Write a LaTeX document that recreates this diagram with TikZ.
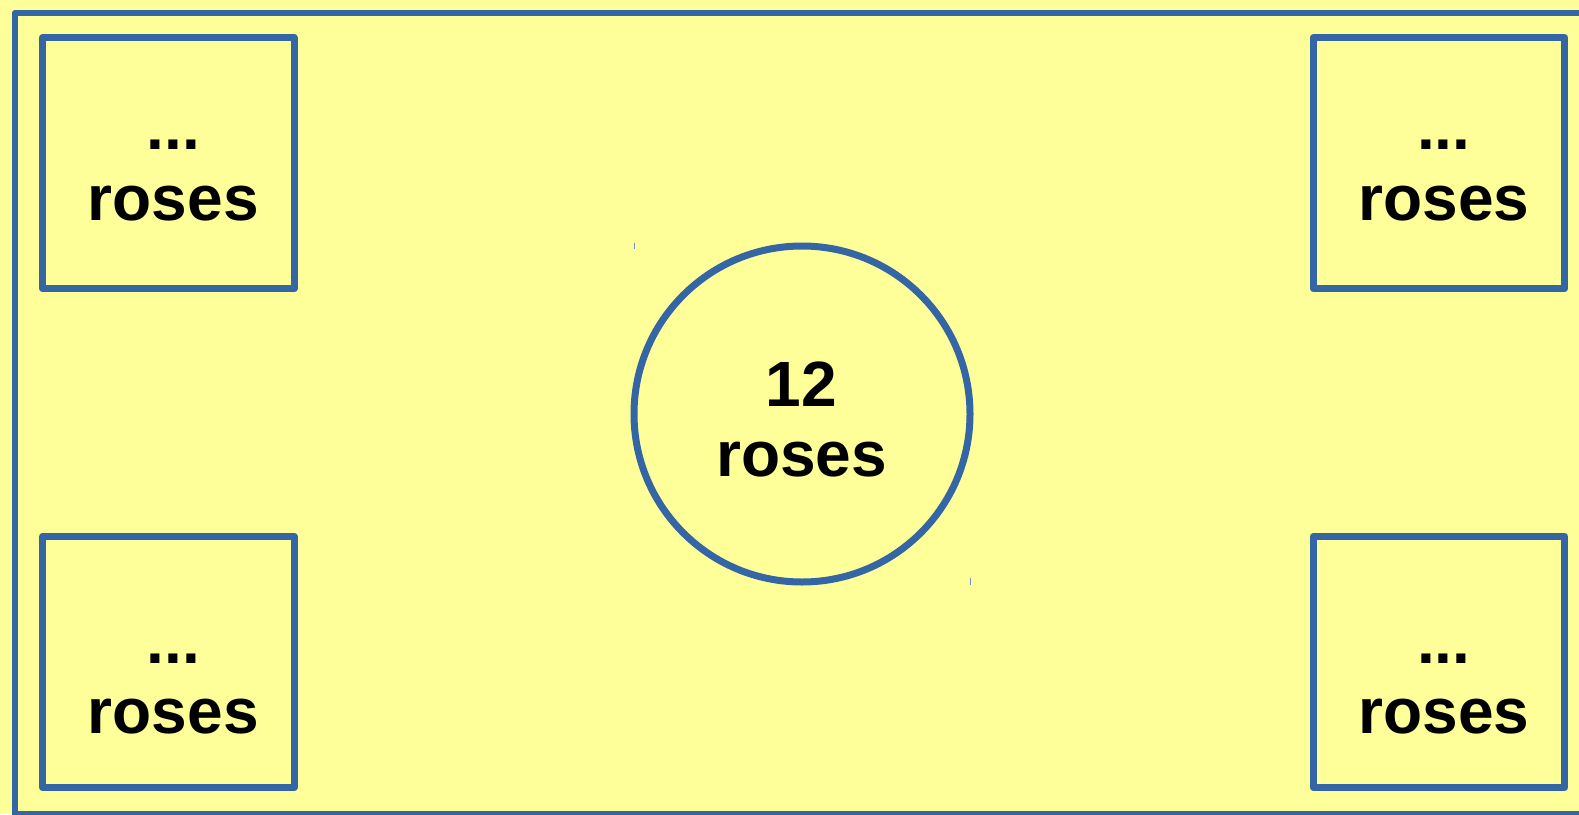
\documentclass[tikz,border=0pt]{standalone}
\usepackage{fontspec}
\setmainfont{Liberation Sans}
\definecolor{bgyellow}{HTML}{FFFF99}
\definecolor{lineblue}{HTML}{3465A4}
\tikzset{
  frame/.style={draw=lineblue, line width=6.5pt, line join=round},
  bed/.style={draw=lineblue, line width=7pt, line join=round, rectangle, minimum width=251.5pt, minimum height=251pt, inner sep=0pt},
  roundbed/.style={draw=lineblue, line width=7pt, circle, minimum size=336pt, inner sep=0pt},
  txt/.style={anchor=base, inner sep=0pt, font=\fontsize{64pt}{70pt}\selectfont\bfseries},
  tick/.style={draw=lineblue!70, line width=0.9pt}
}
\begin{document}
\begin{tikzpicture}[x=1pt,y=-1pt]
\useasboundingbox (0,0) rectangle (1579,814);
\fill[bgyellow] (0,0) rectangle (1579,814);
% outer frame (extends beyond right and bottom edges)
\coordinate (fTR) at (1600,13);
\coordinate (fTL) at (15,13);
\coordinate (fBL) at (15,814.5);
\coordinate (fBR) at (1600,814.5);
\draw[frame] (fTR) -- (fTL) -- (fBL) -- (fBR);
% corner beds
\node[bed] (tl) at (168.3,163.3) {};
\node[bed] (tr) at (1438.8,163.3) {};
\node[bed] (bl) at (168.3,662.0) {};
\node[bed] (br) at (1438.8,662.0) {};
% centre bed
\node[roundbed] (c) at (802,414) {};
% texts
\node[txt] (tl-a) at (173.3,149.5) {...};
\node[txt] (tl-b) at (173.3,220.8) {roses};
\node[txt] (tr-a) at (1443.8,149.5) {...};
\node[txt] (tr-b) at (1443.8,220.8) {roses};
\node[txt] (bl-a) at (173.3,663.3) {...};
\node[txt] (bl-b) at (173.3,733.3) {roses};
\node[txt] (br-a) at (1443.8,663.3) {...};
\node[txt] (br-b) at (1443.8,733.3) {roses};
\node[txt] (c-a) at (801.5,406.7) {12};
\node[txt] (c-b) at (801.5,476.7) {roses};
% tiny tick marks
\coordinate (t1a) at (634.3,243);
\coordinate (t1b) at (634.3,249);
\coordinate (t2a) at (970.7,578);
\coordinate (t2b) at (970.7,585);
\draw[tick] (t1a) -- (t1b);
\draw[tick] (t2a) -- (t2b);
\end{tikzpicture}
\end{document}
